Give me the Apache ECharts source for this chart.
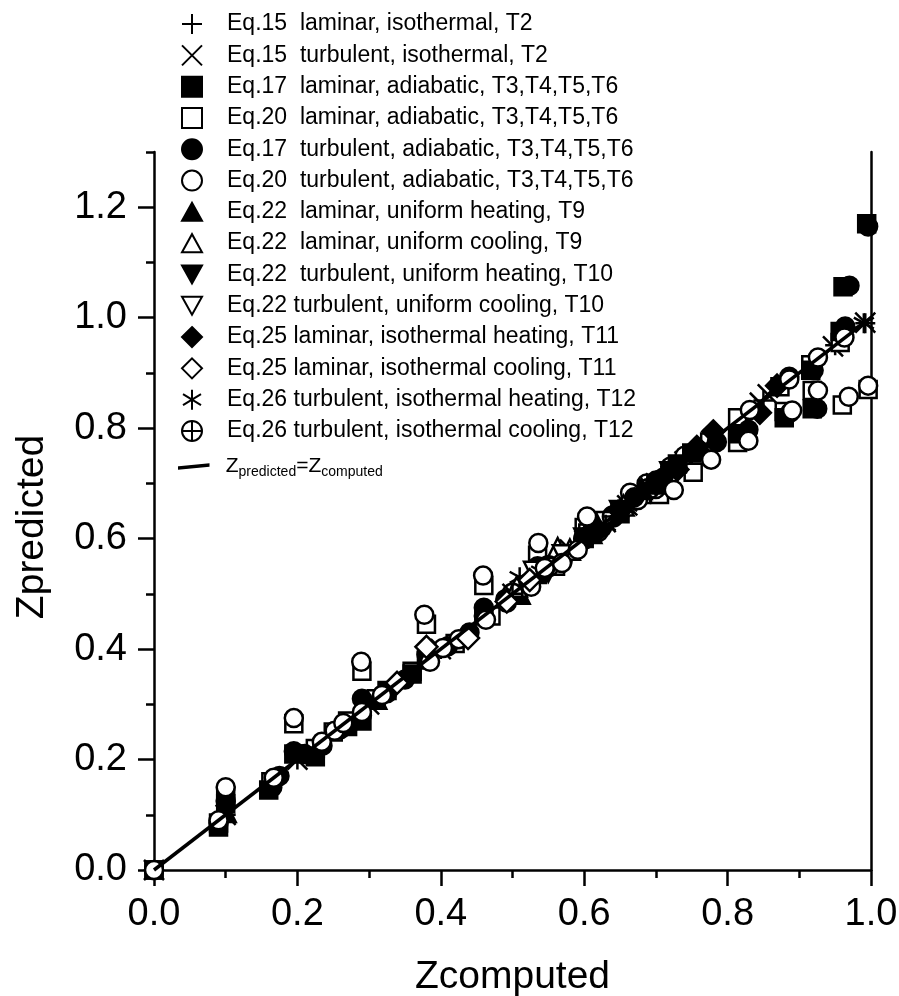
<!DOCTYPE html>
<html><head><meta charset="utf-8">
<script src="https://cdn.jsdelivr.net/npm/echarts@6/dist/echarts.min.js"></script>
<style>html,body{margin:0;padding:0;background:#fff}#c{width:899px;height:996px}</style>
</head><body><div id="c"></div>
<script>
const yMajorTicks = [0, 0.2, 0.4, 0.6, 0.8, 1.0, 1.2];
const lineData = [[0,0],[1,1]];
const plusLam = [[0,0],[.1,.1],[.2,.2],[.3,.3],[.4,.4],[.55,.55],[.62,.62],[.65,.65],[.7,.7],[.75,.75],[.85,.85],[.95,.95],[.992,.99]];
const crossTurb = [[0,0],[.1,.1],[.2,.2],[.3,.3],[.4,.4],[.5,.5],[.58,.58],[.63,.63],[.66,.66],[.7,.7],[.74,.74],[.78,.78],[.845,.846],[.856,.861],[.947,.948],[.992,.991]];
const sqFill = [[0,0],[.09,.078],[.1,.12],[.16,.145],[.195,.21],[.225,.205],[.27,.26],[.29,.27],[.325,.325],[.36,.355],[.38,.38],[.46,.46],[.535,.535],[.6,.6],[.65,.645],[.7,.7],[.73,.735],[.75,.755],[.814,.79],[.879,.819],[.918,.835],[.916,.905],[.961,1.056],[.957,.975],[.994,1.17]];
const sqOpen = [[0,0],[.09,.085],[.1,.135],[.163,.16],[.195,.265],[.225,.22],[.25,.25],[.27,.27],[.29,.36],[.31,.31],[.36,.36],[.38,.445],[.42,.41],[.46,.515],[.47,.46],[.535,.57],[.56,.55],[.6,.62],[.605,.61],[.68,.68],[.705,.68],[.752,.72],[.775,.775],[.814,.774],[.814,.819],[.879,.83],[.873,.875],[.918,.868],[.916,.915],[.96,.842],[.957,.955],[.996,.87]];
const cirFill = [[0,0],[.09,.085],[.1,.125],[.165,.15],[.175,.17],[.195,.215],[.21,.21],[.235,.225],[.26,.255],[.29,.31],[.29,.28],[.325,.32],[.35,.345],[.38,.39],[.41,.405],[.44,.43],[.46,.475],[.46,.46],[.49,.49],[.51,.505],[.535,.55],[.57,.56],[.605,.605],[.625,.62],[.64,.64],[.67,.675],[.7,.705],[.71,.71],[.73,.73],[.76,.76],[.785,.775],[.829,.797],[.887,.828],[.925,.835],[.92,.905],[.886,.893],[.964,.984],[.97,1.058],[.996,1.165]];
const cirOpenUnder = [[.62,.612],[.63,.63],[.664,.683],[.675,.67],[.687,.70],[.7,.69],[.72,.73],[.74,.75]];
const cirOpenOver = [[0,0],[.09,.09],[.1,.15],[.167,.167],[.195,.275],[.234,.232],[.252,.252],[.264,.266],[.29,.286],[.289,.377],[.318,.317],[.377,.462],[.385,.377],[.403,.402],[.425,.418],[.459,.533],[.463,.453],[.492,.484],[.526,.513],[.536,.592],[.545,.547],[.569,.556],[.591,.58],[.604,.64],[.725,.688],[.777,.743],[.829,.777],[.831,.833],[.89,.832],[.886,.888],[.926,.868],[.926,.928],[.963,.964],[.969,.857],[.996,.877]];
const triUpFill = [[.1,.105],[.31,.31],[.51,.5],[.61,.61],[.68,.69],[.7,.7]];
const triUpOpen = [[.506,.513],[.563,.583],[.58,.58],[.655,.66]];
const triDnFill = [[.55,.54],[.6,.6],[.65,.65],[.72,.72]];
const triDnOpen = [[.53,.54],[.57,.57],[.63,.63]];
const diaFill = [[.62,.615],[.65,.65],[.7,.7],[.73,.725],[.757,.766],[.78,.794],[.845,.828],[.869,.877]];
const diaOpen = [[.339,.339],[.38,.404],[.438,.42],[.492,.486],[.524,.525]];
const starHeat = [[.51,.53],[.54,.54],[.6,.605],[.63,.625],[.65,.65],[.66,.66],[.69,.695],[.73,.73],[.76,.76],[.99,.99]];
const crossCool = [[.5,.5],[.55,.55],[.6,.6],[.64,.64],[.69,.69],[.72,.72]];

const names = {
 plus:'Eq.15  laminar, isothermal, T2', x:'Eq.15  turbulent, isothermal, T2',
 sf:'Eq.17  laminar, adiabatic, T3,T4,T5,T6', so:'Eq.20  laminar, adiabatic, T3,T4,T5,T6',
 cf:'Eq.17  turbulent, adiabatic, T3,T4,T5,T6', co:'Eq.20  turbulent, adiabatic, T3,T4,T5,T6',
 tuf:'Eq.22  laminar, uniform heating, T9', tuo:'Eq.22  laminar, uniform cooling, T9',
 tdf:'Eq.22  turbulent, uniform heating, T10', tdo:'Eq.22 turbulent, uniform cooling, T10',
 df:'Eq.25 laminar, isothermal heating, T11', dO:'Eq.25 laminar, isothermal cooling, T11',
 st:'Eq.26 turbulent, isothermal heating, T12', cc:'Eq.26 turbulent, isothermal cooling, T12',
 line:'Zline'
};
const P = {
 plus:'path://M0 10H20M10 0V20', x:'path://M0 0L20 20M0 20L20 0',
 down:'path://M0 0H20L10 18Z',
 up:'path://M0 18H20L10 0Z',
 star:'path://M10 0V20M1 4.5L19 15.5M1 15.5L19 4.5',
 cc:'path://M0 10A10 10 0 1 1 20 10A10 10 0 1 1 0 10ZM0 10H20M10 0V20'
};
function s(name,data,symbol,size,fill){
 return {type:'scatter',name,data,symbol,symbolSize:size,clip:false,yAxisIndex:0,
  itemStyle:{color:fill,borderColor:'#000',borderWidth:2.5,opacity:1},emphasis:{disabled:true}};
}
const K='#000',W='#fff',N='rgba(0,0,0,0)';
const font='"Liberation Sans", Arial, sans-serif';
const chart=echarts.init(document.getElementById('c'),null,{renderer:'canvas'});
const axisLine={onZero:false,lineStyle:{color:K,width:2.5}};
chart.setOption({
 animation:false,backgroundColor:'#fff',
 grid:{left:154,right:28,top:152,bottom:126,containLabel:false,outerBoundsMode:'none'},
 xAxis:{type:'value',min:0,max:1,interval:.2,name:'Zcomputed',nameLocation:'middle',nameGap:88,
  nameTextStyle:{fontFamily:font,fontSize:39,color:K},
  axisLine,splitLine:{show:false},
  axisTick:{show:true,length:16,inside:false,lineStyle:{color:K,width:2.5}},
  minorTick:{show:true,splitNumber:2,length:8,lineStyle:{color:K,width:2.5}},
  axisLabel:{fontFamily:font,fontSize:38,color:K,margin:26,formatter:v=>v.toFixed(1),showMaxLabel:true,showMinLabel:true,hideOverlap:false}},
 yAxis:[
  {type:'value',min:0,max:1.3,interval:.1,axisLine,splitLine:{show:false},
   axisTick:{show:true,length:8,lineStyle:{color:K,width:2.5}},axisLabel:{show:false}},
  {type:'value',min:0,max:1.3,position:'left',name:'Zpredicted',nameLocation:'middle',nameGap:102,
   nameTextStyle:{fontFamily:font,fontSize:39,color:K,padding:[0,32,0,0]},axisLine:{show:false,onZero:false},splitLine:{show:false},
   axisTick:{show:true,length:16,customValues:yMajorTicks,lineStyle:{color:K,width:2.5}},
   axisLabel:{fontFamily:font,fontSize:38,color:K,margin:27,padding:[4,0,0,0],customValues:yMajorTicks,formatter:v=>v.toFixed(1),hideOverlap:false}},
  {type:'value',min:0,max:1.3,position:'right',axisLine:{show:true,onZero:false,lineStyle:{color:K,width:2.5}},
   axisTick:{show:false},axisLabel:{show:false},splitLine:{show:false}}
 ],
 legend:[
  {orient:'vertical',left:181,top:8.4,padding:0,itemWidth:20,itemHeight:20,itemGap:0,selectedMode:false,
   data:[names.plus,names.x,names.sf,names.so,names.cf,names.co,names.tuf,names.tuo,names.tdf,names.tdo,names.df,names.dO,names.st,names.cc],
   textStyle:{fontFamily:font,fontSize:23,lineHeight:31.3,color:K,padding:[0,0,0,20]}},
  {orient:'vertical',left:178,top:456,padding:0,itemWidth:30,itemHeight:5,selectedMode:false,
   data:[{name:names.line,icon:'path://M0 3L30 0V2L0 5Z',itemStyle:{color:K,borderColor:K,borderWidth:1.5}}],
   formatter:()=>'{z|Z}{s|predicted}{z|=Z}{s|computed}',
   textStyle:{fontFamily:font,fontSize:21,color:K,padding:[0,0,0,12],
    rich:{z:{fontFamily:font,fontSize:21,color:K,lineHeight:26,verticalAlign:'middle'},
          s:{fontFamily:font,fontSize:14,color:K,lineHeight:26,verticalAlign:'bottom',padding:[9,0,0,0]}}}}
 ],
 series:[
  {type:'line',name:names.line,data:lineData,symbol:'none',yAxisIndex:0,clip:false,lineStyle:{color:K,width:3.5},itemStyle:{color:K},emphasis:{disabled:true}},
  s(names.plus,plusLam,P.plus,20,N),
  s(names.x,crossTurb,P.x,20,N),
  s(names.so,sqOpen,'rect',17,W),
  s(names.co,cirOpenUnder,'circle',18,W),
  s(names.sf,sqFill,'rect',17,K),
  s(names.cf,cirFill,'circle',18,K),
  s(names.tuf,triUpFill,P.up,20,K),
  s(names.tuo,triUpOpen,P.up,20,W),
  s(names.tdf,triDnFill,P.down,20,K),
  s(names.tdo,triDnOpen,P.down,20,W),
  s(names.st,starHeat,P.star,20,N),
  s(names.cc,crossCool,P.cc,20,N),
  s(names.df,diaFill,'diamond',22,K),
  s(names.co,cirOpenOver,'circle',18,W),
  s(names.dO,diaOpen,'diamond',22,W)
 ]
});
</script></body></html>
